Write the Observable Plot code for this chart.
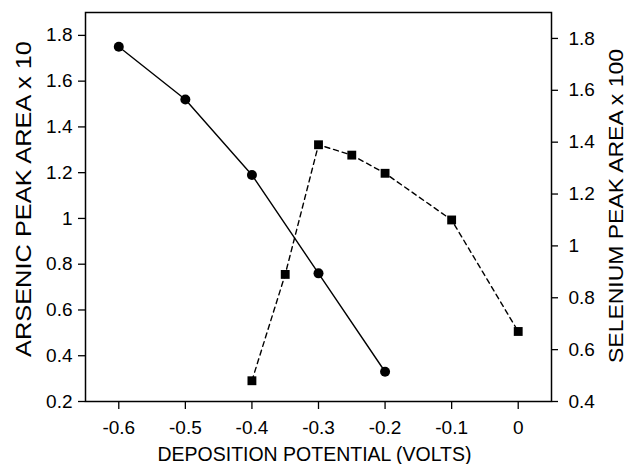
<!DOCTYPE html>
<html>
<head>
<meta charset="utf-8">
<script src="https://cdn.jsdelivr.net/npm/d3@7"></script>
<script src="https://cdn.jsdelivr.net/npm/@observablehq/plot@0.6"></script>
<style>
  html, body { margin: 0; padding: 0; background: #fff; }
</style>
</head>
<body>
<div id="chart"></div>
<script>
// Arsenic response (left axis, x 10) vs deposition potential
const potentialAs = [-0.6, -0.5, -0.4, -0.3, -0.2];
const arsenicArea = [1.75, 1.52, 1.19, 0.76, 0.33];

// Selenium response (right axis, x 100) vs deposition potential
const potentialSe = [-0.4, -0.35, -0.3, -0.25, -0.2, -0.1, 0];
const seleniumArea = [0.48, 0.89, 1.39, 1.35, 1.28, 1.10, 0.67];

// Tick values
const xTicks = [-0.6, -0.5, -0.4, -0.3, -0.2, -0.1, 0];
const leftTicks = [0.2, 0.4, 0.6, 0.8, 1, 1.2, 1.4, 1.6, 1.8];
const rightTicks = [0.4, 0.6, 0.8, 1, 1.2, 1.4, 1.6, 1.8];

// Axis titles
const xTitle = "DEPOSITION POTENTIAL (VOLTS)";
const leftTitle = "ARSENIC PEAK AREA x 10";
const rightTitle = "SELENIUM PEAK AREA x 100";

// The right axis spans [0.4, 1.9]; map it onto the left scale [0.2, 1.9]
const leftDomain = [0.2, 1.9];
const rightDomain = [0.4, 1.9];
const k = (leftDomain[1] - leftDomain[0]) / (rightDomain[1] - rightDomain[0]);
const toLeft = v => leftDomain[0] + (v - rightDomain[0]) * k;
const fromLeft = y => rightDomain[0] + (y - leftDomain[0]) / k;
const fmt = v => String(+(+v).toFixed(2));

const arsenic = potentialAs.map((x, i) => ({x, y: arsenicArea[i]}));
const selenium = potentialSe.map((x, i) => ({x, y: toLeft(seleniumArea[i])}));

const chart = Plot.plot({
  width: 629,
  height: 464,
  marginLeft: 85,
  marginRight: 78,
  marginTop: 12,
  marginBottom: 63,
  style: {
    fontFamily: '"Liberation Sans", Arial, Helvetica, sans-serif',
    fontSize: "19px",
    color: "#000",
    background: "#fff"
  },
  x: {domain: [-0.65, 0.05]},
  y: {domain: leftDomain},
  marks: [
    Plot.axisX(xTicks, {anchor: "bottom", tickSize: 8, tickPadding: 11, tickFormat: fmt, label: null, strokeWidth: 1.3}),
    Plot.axisY(leftTicks, {anchor: "left", tickSize: 7, tickPadding: 6, tickFormat: fmt, label: null, strokeWidth: 1.3}),
    Plot.axisY(rightTicks.map(toLeft), {anchor: "right", tickSize: 6, tickPadding: 11, tickFormat: d => fmt(fromLeft(d)), label: null, strokeWidth: 1.3}),
    Plot.frame({stroke: "#000", strokeWidth: 1.5}),
    Plot.line(arsenic, {x: "x", y: "y", stroke: "#000", strokeWidth: 1.4}),
    Plot.line(selenium, {x: "x", y: "y", stroke: "#000", strokeWidth: 1.4, strokeDasharray: "5,4"}),
    Plot.dot(arsenic, {x: "x", y: "y", r: 5, fill: "#000", stroke: null, symbol: "circle"}),
    Plot.dot(selenium, {x: "x", y: "y", r: 5, fill: "#000", stroke: null, symbol: "square"}),
    Plot.text([xTitle], {text: d => d, frameAnchor: "bottom", textAnchor: "middle", dx: -4, dy: 59, lineAnchor: "bottom", fontSize: 21, fill: "#000"}),
    Plot.text([leftTitle], {text: d => d, frameAnchor: "left", textAnchor: "middle", dx: -62, dy: -8, rotate: -90, lineAnchor: "middle", fontSize: 22, fill: "#000"}),
    Plot.text([rightTitle], {text: d => d, frameAnchor: "right", textAnchor: "middle", dx: 65, dy: -1, rotate: -90, lineAnchor: "middle", fontSize: 21, fill: "#000"})
  ]
});

// fit the axis titles to their set run lengths
const titleLengths = new Map([[xTitle, 314], [leftTitle, 316], [rightTitle, 314]]);
chart.querySelectorAll("text").forEach(t => {
  const len = titleLengths.get(t.textContent);
  if (len) {
    t.setAttribute("textLength", len);
    t.setAttribute("lengthAdjust", "spacingAndGlyphs");
  }
});

document.getElementById("chart").appendChild(chart);
</script>
</body>
</html>
